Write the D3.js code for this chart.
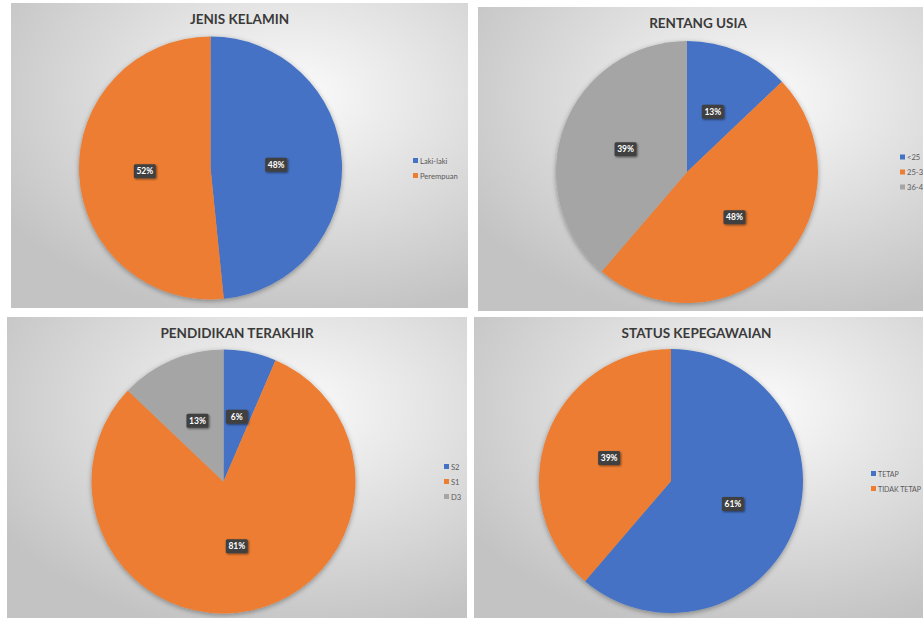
<!DOCTYPE html>
<html>
<head>
<meta charset="utf-8">
<script src="https://cdn.jsdelivr.net/npm/d3@7"></script>
<style>
  body { margin: 0; background: #fff; }
  svg { display: block; }
</style>
</head>
<body>
<div id="chart"></div>
<script>
// Four pie charts, n = 31 respondents
const titles = ['JENIS KELAMIN', 'RENTANG USIA', 'PENDIDIKAN TERAKHIR', 'STATUS KEPEGAWAIAN']

const genderLabels = ['Laki-laki', 'Perempuan']
const genderCounts = [15, 16]

const ageLabels = ['<25', '25-35', '36-45']
const ageCounts = [4, 15, 12]

const eduLabels = ['S2', 'S1', 'D3']
const eduCounts = [2, 25, 4]

const statusLabels = ['TETAP', 'TIDAK TETAP']
const statusCounts = [19, 12]

const colors = ['#4472C4', '#ED7D31', '#A5A5A5']

const width = 923, height = 618

// panel boxes and where the pie / legend sit inside them
const layout = [
    {x: 11, y: 3, w: 457, h: 305, cx: 210.5, cy: 168, r: 131.5, titleY: 19, legendX: 413, legendFont: 7.6},
    {x: 478, y: 7, w: 450, h: 304, cx: 687, cy: 172, r: 131, titleY: 23, legendX: 900, legendFont: 7.6},
    {x: 7, y: 317, w: 460, h: 305, cx: 223.5, cy: 481.5, r: 132, titleY: 333, legendX: 444, legendFont: 7.6},
    {x: 474, y: 317, w: 455, h: 305, cx: 671, cy: 481, r: 132, titleY: 333, legendX: 871, legendFont: 7}
]

const panels = [
    {labels: genderLabels, values: genderCounts},
    {labels: ageLabels, values: ageCounts},
    {labels: eduLabels, values: eduCounts},
    {labels: statusLabels, values: statusCounts}
]

const svg = d3.select('#chart').append('svg').attr('width', width).attr('height', height)
const defs = svg.append('defs')

const grad = defs.append('radialGradient').attr('id', 'bg')
    .attr('cx', '62%').attr('cy', '30%').attr('r', '75%')
grad.append('stop').attr('offset', '0%').attr('stop-color', '#fbfbfb')
grad.append('stop').attr('offset', '100%').attr('stop-color', '#c3c3c3')

const pieShadow = defs.append('filter').attr('id', 'pieShadow')
    .attr('x', '-10%').attr('y', '-10%').attr('width', '120%').attr('height', '120%')
pieShadow.append('feDropShadow').attr('dx', 0).attr('dy', 1.5).attr('stdDeviation', 2.5)
    .attr('flood-color', '#000').attr('flood-opacity', 0.35)

const boxShadow = defs.append('filter').attr('id', 'boxShadow')
    .attr('x', '-30%').attr('y', '-30%').attr('width', '160%').attr('height', '160%')
boxShadow.append('feDropShadow').attr('dx', 1).attr('dy', 1).attr('stdDeviation', 0.8)
    .attr('flood-color', '#000').attr('flood-opacity', 0.5)

const pie = d3.pie().sort(null)
const color = d3.scaleOrdinal().range(colors)

panels.forEach((p, i) => {
    const L = layout[i]
    const total = d3.sum(p.values)
    const g = svg.append('g')

    g.append('rect').attr('x', L.x).attr('y', L.y).attr('width', L.w).attr('height', L.h)
        .attr('fill', 'url(#bg)')

    g.append('text').attr('x', L.x + L.w / 2 + (i % 2 ? -5 : 0)).attr('y', L.titleY)
        .attr('text-anchor', 'middle').attr('dominant-baseline', 'central')
        .attr('font-family', 'Lato, sans-serif').attr('font-weight', 'bold')
        .attr('font-size', 13.5).attr('fill', '#3a3a3a')
        .text(titles[i])

    const arc = d3.arc().innerRadius(0).outerRadius(L.r)
    const arcs = pie(p.values)

    const pg = g.append('g').attr('transform', 'translate(' + L.cx + ',' + L.cy + ')')
    pg.append('g').attr('filter', 'url(#pieShadow)')
        .selectAll('path').data(arcs).join('path')
        .attr('d', arc)
        .attr('fill', (d, j) => color(j))

    // data labels at half the radius, dark boxes
    const lab = pg.selectAll('g.lab').data(arcs).join('g').attr('class', 'lab')
        .attr('transform', d => 'translate(' + arc.centroid(d) + ')')
    lab.append('rect').attr('x', -11).attr('y', -7).attr('width', 22).attr('height', 14)
        .attr('rx', 1.5).attr('fill', '#404040').attr('filter', 'url(#boxShadow)')
    lab.append('text').attr('text-anchor', 'middle').attr('dominant-baseline', 'central')
        .attr('font-family', 'Lato, sans-serif').attr('font-weight', 'bold')
        .attr('font-size', 8.5).attr('fill', '#fff')
        .text(d => Math.round(d.value / total * 100) + '%')

    // legend
    const rowH = 15
    const ly0 = L.cy - (p.labels.length - 1) * rowH / 2
    const lg = g.selectAll('g.leg').data(p.labels).join('g').attr('class', 'leg')
        .attr('transform', (d, j) => 'translate(' + L.legendX + ',' + (ly0 + j * rowH) + ')')
    lg.append('rect').attr('x', 0).attr('y', -2.5).attr('width', 5).attr('height', 5)
        .attr('fill', (d, j) => color(j))
    lg.append('text').attr('x', 7).attr('dominant-baseline', 'central')
        .attr('font-family', 'Lato, sans-serif').attr('font-size', L.legendFont).attr('fill', '#595959')
        .text(d => d)
})
</script>
</body>
</html>
